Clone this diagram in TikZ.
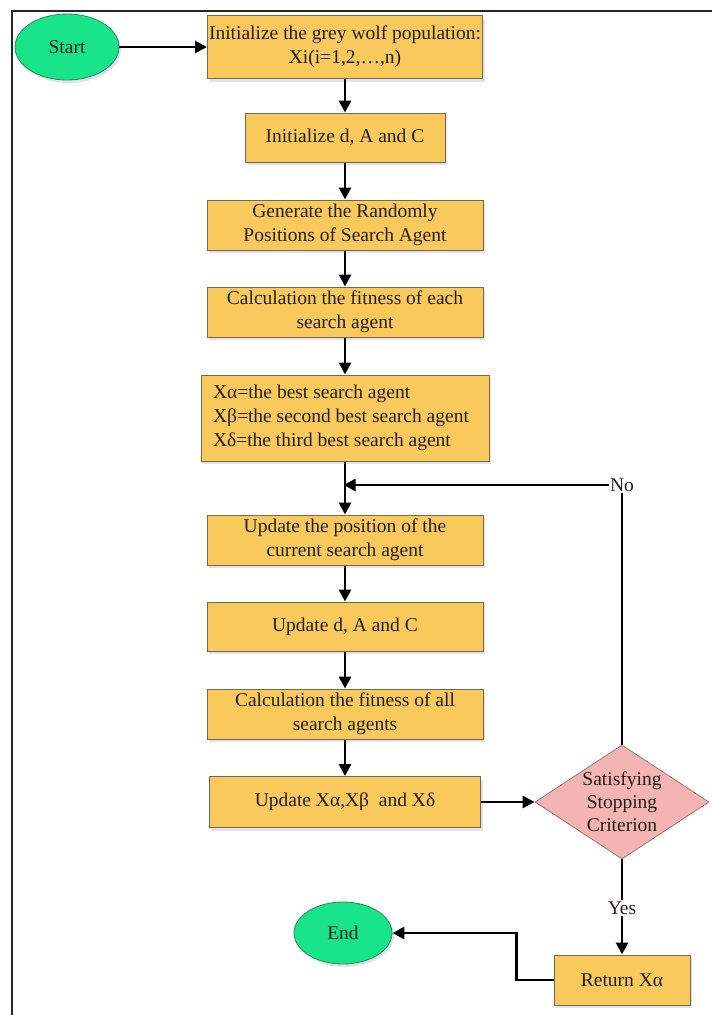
\documentclass[tikz,border=0pt]{standalone}
\usepackage{fontspec}
\setmainfont{Liberation Serif}
\usetikzlibrary{shapes.geometric,arrows.meta,shadows}
\definecolor{boxfill}{RGB}{250,201,92}
\definecolor{boxline}{RGB}{115,105,80}
\definecolor{greenfill}{RGB}{24,228,140}
\definecolor{greenline}{RGB}{40,140,80}
\definecolor{pinkfill}{RGB}{245,180,180}
\definecolor{pinkline}{RGB}{165,110,110}
\definecolor{txt}{RGB}{35,32,25}
\tikzset{
  every node/.style={font=\fontsize{19.5}{24}\selectfont, text=txt},
  procbox/.style={rectangle, draw=boxline, line width=1pt, fill=boxfill, align=center, inner sep=0pt,
    drop shadow={shadow xshift=2pt, shadow yshift=-3pt, opacity=0.18, fill=blue!30!gray}},
  terminal/.style={ellipse, draw=greenline, line width=0.8pt, fill=greenfill, inner sep=0pt,
    drop shadow={shadow xshift=2pt, shadow yshift=-3pt, opacity=0.18, fill=blue!30!gray}},
  decision/.style={diamond, draw=pinkline, line width=0.8pt, fill=pinkfill, inner sep=0pt},
  flow/.style={line width=2.8pt, draw=black, -{Triangle[length=12pt,width=12pt]}},
  lbl/.style={fill=white, inner sep=1.5pt}
}
\begin{document}
\begin{tikzpicture}[x=1pt,y=-1pt]
\useasboundingbox (0,0) rectangle (712,1015);
% frame (right and bottom fall outside the picture)
\draw[line width=1.8pt, draw=black!85] (712,11) -- (12,11) -- (12,1015);

\node[terminal, minimum width=104pt, minimum height=66pt] (start) at (67,47) {Start};
\node[procbox, minimum width=275pt, minimum height=63pt] (b1) at (345,47) {Initialize the grey wolf population:\\Xi(i=1,2,\ldots,n)};
\node[procbox, minimum width=200pt, minimum height=49pt] (b2) at (345,137.5) {Initialize d, A and C};
\node[procbox, minimum width=276pt, minimum height=50pt] (b3) at (345,225) {Generate the Randomly\\Positions of Search Agent};
\node[procbox, minimum width=276pt, minimum height=50pt] (b4) at (345,312) {Calculation the fitness of each\\search agent};
\node[procbox, minimum width=288pt, minimum height=86pt, align=flush left, text width=264pt, inner xsep=12pt] (b5) at (345,418) {Xα=the best search agent\\Xβ=the second best search agent\\Xδ=the third best search agent};
\node[procbox, minimum width=276pt, minimum height=50pt] (b6) at (345,540) {Update the position of the\\current search agent};
\node[procbox, minimum width=276pt, minimum height=49pt] (b7) at (345,626.5) {Update d, A and C};
\node[procbox, minimum width=276pt, minimum height=50pt] (b8) at (345,714) {Calculation the fitness of all\\search agents};
\node[procbox, minimum width=271pt, minimum height=51pt] (b9) at (345,802) {Update Xα,Xβ\ \ and Xδ};
\node[decision, minimum width=174pt, minimum height=114pt] (dia) at (622,802) {};
\node[align=center, font=\fontsize{19.5}{23}\selectfont] (diatext) at (dia.center) {Satisfying\\Stopping\\Criterion};
\node[procbox, minimum width=136pt, minimum height=50pt] (ret) at (622,980) {Return Xα};
\node[terminal, minimum width=98pt, minimum height=62pt] (end) at (343,933) {End};

\coordinate (join) at (345,485);

\draw[flow] (start.east) -- (b1.west);
\draw[flow] (b1.south) -- (b2.north);
\draw[flow] (b2.south) -- (b3.north);
\draw[flow] (b3.south) -- (b4.north);
\draw[flow] (b4.south) -- (b5.north);
\draw[flow] (b5.south) -- (b6.north);
\draw[flow] (b6.south) -- (b7.north);
\draw[flow] (b7.south) -- (b8.north);
\draw[flow] (b8.south) -- (b9.north);
\draw[flow] (b9.east) -- (dia.west);
\draw[flow, shorten >=-1.4pt] (dia.north) |- (join);
\node[lbl] (no) at (dia.north |- join) {No};
\draw[flow] (dia.south) -- (ret.north);
\node[lbl] (yes) at (622,908) {Yes};
\draw[flow] (ret.west) -- ++(-37,0) |- (end.east);
\end{tikzpicture}
\end{document}
